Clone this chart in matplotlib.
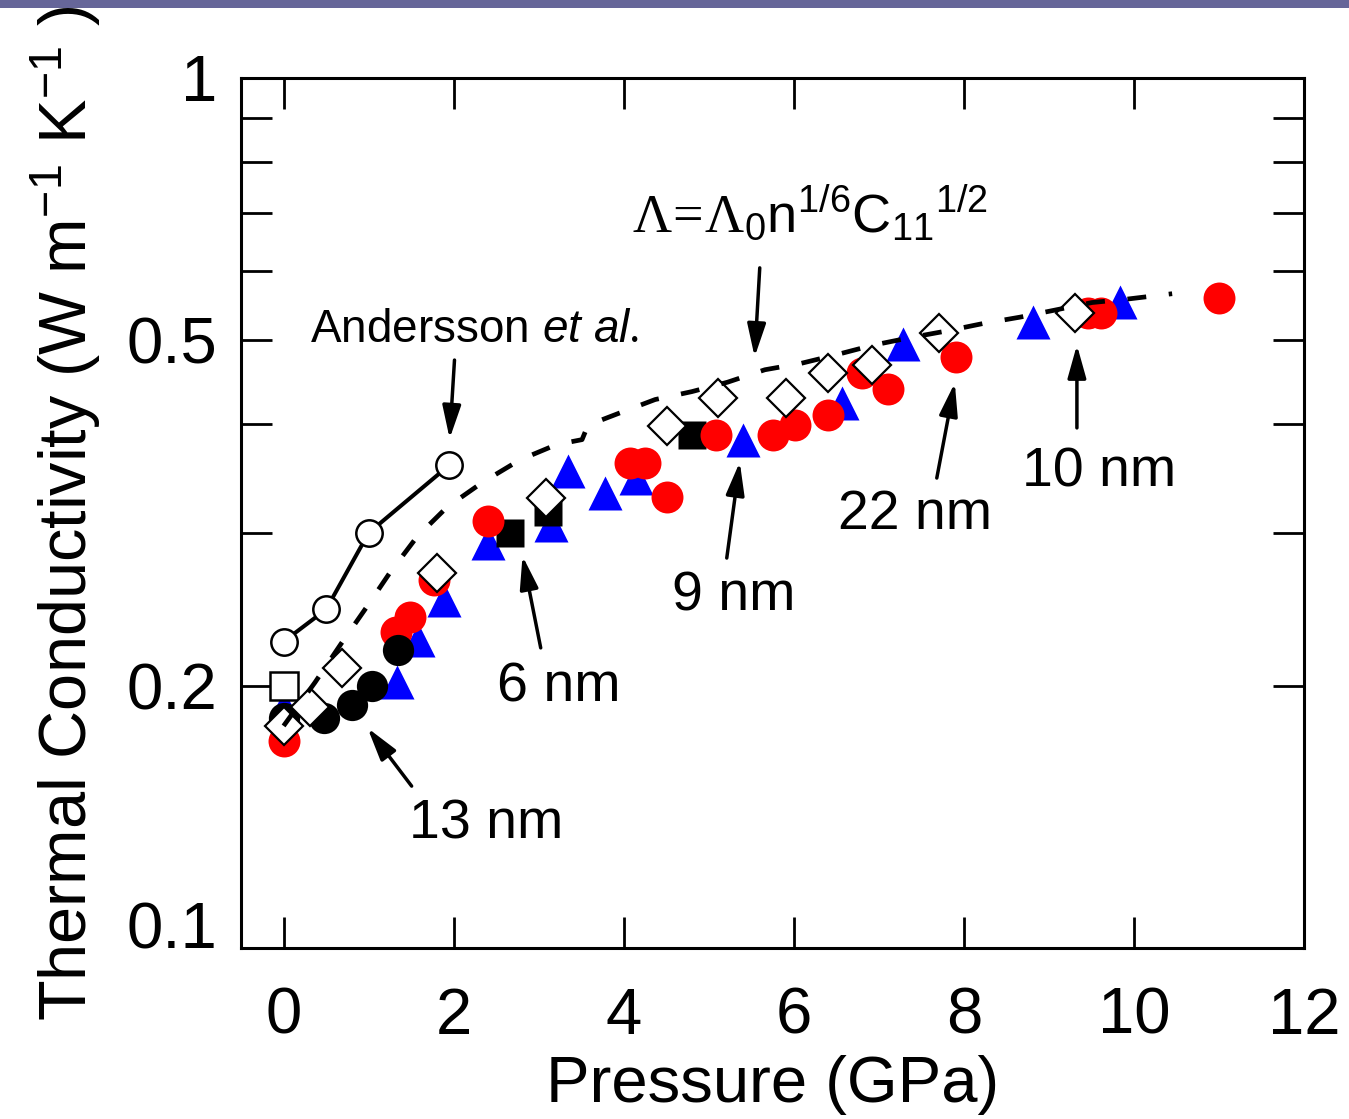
import numpy as np
import matplotlib.pyplot as plt
from matplotlib.patches import Rectangle
from matplotlib.ticker import FixedLocator, NullFormatter

plt.rcParams['font.family'] = 'Liberation Sans'
plt.rcParams['mathtext.fontset'] = 'custom'
plt.rcParams['mathtext.rm'] = 'Liberation Serif'
plt.rcParams['mathtext.sf'] = 'Liberation Sans'
plt.rcParams['mathtext.it'] = 'Liberation Sans:italic'

# Andersson et al. (open circles, solid line)
p_andersson = [0.0, 0.5, 1.0, 1.95]
k_andersson = [0.225, 0.245, 0.300, 0.359]

# model curve, Lambda = Lambda0 n^1/6 C11^1/2 (dashed)
p_model = [0.0, 0.37, 0.68, 0.97, 1.25, 1.57, 1.92, 2.34, 2.78, 3.21, 3.51, 3.58,
           3.95, 4.37, 4.80, 5.22, 5.66, 6.09, 6.51, 6.93, 7.37, 7.80, 8.22, 8.66,
           9.07, 9.51, 9.92, 10.45]
k_model = [0.180, 0.202, 0.224, 0.246, 0.270, 0.297, 0.321, 0.343, 0.364, 0.379, 0.384, 0.399,
           0.412, 0.427, 0.436, 0.447, 0.462, 0.470, 0.481, 0.493, 0.503, 0.512, 0.522, 0.531,
           0.541, 0.552, 0.557, 0.565]

# 9 nm (blue triangles)
p_9nm = [0.0, 1.33, 1.58, 1.89, 2.40, 3.14, 3.35, 3.78, 4.15, 5.40, 6.57, 7.28, 8.81, 9.84]
k_9nm = [0.189, 0.202, 0.226, 0.251, 0.292, 0.306, 0.353, 0.333, 0.347, 0.384, 0.423, 0.495,
         0.524, 0.553]

# 6 nm (black squares)
p_6nm = [2.66, 3.11, 4.80]
k_6nm = [0.300, 0.317, 0.389]

# 22 nm (red circles)
p_22nm = [0.0, 1.32, 1.49, 1.77, 2.40, 4.07, 4.25, 4.51, 5.09, 5.75, 6.01, 6.40, 6.80, 7.11,
          7.91, 9.46, 9.61, 11.0]
k_22nm = [0.173, 0.231, 0.240, 0.265, 0.310, 0.361, 0.361, 0.330, 0.389, 0.389, 0.399, 0.410,
          0.458, 0.439, 0.478, 0.537, 0.537, 0.559]

# 13 nm (black circles)
p_13nm = [0.0, 0.47, 0.81, 1.04, 1.34]
k_13nm = [0.184, 0.184, 0.190, 0.200, 0.220]

# open square
p_sq = [0.0]
k_sq = [0.200]

# 10 nm (open diamonds)
p_10nm = [0.0, 0.31, 0.69, 1.80, 3.09, 4.51, 5.11, 5.91, 6.40, 6.92, 7.71, 9.31]
k_10nm = [0.180, 0.189, 0.210, 0.270, 0.329, 0.398, 0.429, 0.429, 0.458, 0.468, 0.509, 0.537]

fig = plt.figure(figsize=(13.49, 11.19), dpi=100)
ax = fig.add_axes([0.1787, 0.1528, 0.7879, 0.7775])

ax.plot(p_9nm, k_9nm, '^', ms=25, color='blue', mec='none', zorder=2)
ax.plot(p_6nm, k_6nm, 's', ms=20.5, color='black', mec='none', zorder=3)
ax.plot(p_22nm, k_22nm, 'o', ms=23, color='red', mec='none', zorder=4)
ax.plot(p_13nm, k_13nm, 'o', ms=22.5, color='black', mec='none', zorder=5)
ax.plot(p_andersson, k_andersson, '-o', ms=19, lw=2.9, color='black',
        mfc='white', mec='black', mew=1.8, zorder=6)
ax.plot(p_sq, k_sq, 's', ms=20, mfc='white', mec='black', mew=1.8, zorder=6)
ax.plot(p_10nm, k_10nm, 'D', ms=19, mfc='white', mec='black', mew=1.6, zorder=7)
ax.plot(p_model, k_model, color='black', lw=3.4, dashes=(4.0, 4.8), zorder=8)

ax.set_yscale('log')
ax.set_xlim(-0.5, 12)
ax.set_ylim(0.1, 1)
ax.xaxis.set_major_locator(FixedLocator([0, 2, 4, 6, 8, 10, 12]))
ax.yaxis.set_major_locator(FixedLocator([0.1, 0.2, 0.5, 1]))
ax.yaxis.set_minor_locator(FixedLocator([0.3, 0.4, 0.6, 0.7, 0.8, 0.9]))
ax.yaxis.set_minor_formatter(NullFormatter())
ax.set_yticklabels(['0.1', '0.2', '0.5', '1'])
ax.tick_params(which='both', direction='in', top=True, right=True,
               length=22, width=2, labelsize=47)
ax.tick_params(axis='x', pad=28)
ax.tick_params(axis='y', pad=17)
ax.get_yticklabels()[0].set_va('baseline')
for s in ax.spines.values():
    s.set_linewidth(2.2)

ax.set_xlabel('Pressure (GPa)', fontsize=47, labelpad=6)
ax.set_ylabel(r'Thermal Conductivity (W m$^{\mathsf{-1}}$ K$^{\mathsf{-1}}$ )', fontsize=48)
ax.yaxis.set_label_coords(-0.13, 0.5)

# annotations
ax.text(0.31, 0.497, r'Andersson $\mathit{et\ al.}$', fontsize=33, va='baseline')
ax.text(4.1, 0.664,
        r'$\Lambda\!=\!\Lambda_{\mathsf{0}}\mathsf{n}^{\mathsf{1/6}}\mathsf{C}_{\mathsf{11}}$$^{\mathsf{1/2}}$',
        fontsize=39, va='baseline')
ax.text(1.48, 0.1337, '13 nm', fontsize=40, va='baseline')
ax.text(2.51, 0.1918, '6 nm', fontsize=40, va='baseline')
ax.text(4.57, 0.2446, '9 nm', fontsize=40, va='baseline')
ax.text(6.52, 0.3031, '22 nm', fontsize=40, va='baseline')
ax.text(8.68, 0.3396, '10 nm', fontsize=40, va='baseline')

arrows = [((2.01, 0.474), (1.953, 0.385)),
          ((5.60, 0.605), (5.54, 0.478)),
          ((1.506, 0.1535), (0.988, 0.179)),
          ((3.024, 0.2213), (2.81, 0.2822)),
          ((5.212, 0.2807), (5.365, 0.3619)),
          ((7.682, 0.3469), (7.894, 0.4462)),
          ((9.33, 0.3961), (9.33, 0.4934))]
for tail, tip in arrows:
    ax.annotate('', xy=tip, xytext=tail,
                arrowprops=dict(arrowstyle='-|>,head_length=1.0,head_width=0.28',
                                mutation_scale=20, lw=2.5, color='black',
                                shrinkA=0, shrinkB=0))

fig.add_artist(Rectangle((0, 1 - 8 / 1119), 1, 8 / 1119, transform=fig.transFigure,
                         facecolor='#666699', edgecolor='none', zorder=10))

fig.savefig('out.png', dpi=100)
